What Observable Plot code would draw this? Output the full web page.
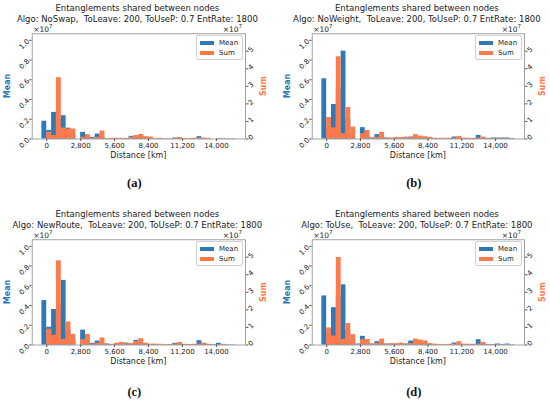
<!DOCTYPE html>
<html>
<head>
<meta charset="utf-8">
<script src="https://cdn.jsdelivr.net/npm/d3@7"></script>
<script src="https://cdn.jsdelivr.net/npm/@observablehq/plot@0.6"></script>
<style>
  html, body { margin: 0; padding: 0; background: #fff; }
  #root { position: relative; width: 550px; height: 401px; background: #fff; overflow: hidden;
          font-family: "DejaVu Sans", sans-serif; color: #222; }
  .abs { position: absolute; white-space: nowrap; line-height: 1; }
  .legend { position: absolute; background: rgba(255,255,255,0.85); border: 1px solid #d0d0d0; border-radius: 2px; box-sizing: border-box; }
  sup { font-size: 5.5px; vertical-align: 0; position: relative; top: -3.2px; }
</style>
</head>
<body>
<div id="root"></div>
<script>
// Histogram bins: left edges in km (each bin 400 km wide)
const binLeft = [-400,0,400,800,1200,1600,2000,2400,2800,3200,3600,4000,4400,4800,5200,5600,6000,6400,6800,7200,
                 7600,8000,8400,8800,9200,9600,10000,10400,10800,11200,11600,12000,12400,12800,13200,13600,14000,14400,14800,15200];
const binWidth = 400;
const xTicks = [0, 2800, 5600, 8400, 11200, 14000];
const meanTicks = [0, 0.2, 0.4, 0.6, 0.8, 1.0];   // ×1e7
const sumTicks = [0, 1, 2, 3, 4, 5];              // ×1e7

const titles = ["NoSwap", "NoWeight", "NewRoute", "ToUse"];
const captions = ["(a)", "(b)", "(c)", "(d)"];

// Values in units of 1e7
const meanA = [0.18,0.087,0.27,0.2,0.236,0.11,0.05,0,0.067,0.01,0.017,0.05,0.02,0.003,0.004,0.004,0.003,0.005,0.027,0.01,
               0.015,0.01,0.005,0.003,0.004,0.002,0.002,0.01,0.005,0.003,0.003,0.004,0.024,0.005,0.003,0,0.005,0.004,0.003,0.003];
const sumA  = [0,0.38,0.2,3.49,0.62,0.57,0.57,0,0.1,0.25,0.05,0.1,0.45,0.03,0.04,0.04,0.04,0.03,0.1,0.2,
               0.26,0.13,0.11,0.03,0.04,0.02,0.02,0.03,0.09,0.03,0.03,0.04,0.05,0.05,0.04,0,0.01,0.01,0,0];
const meanB = [0.61,0.1,0.35,0.5,0.89,0.2,0.05,0,0.115,0.03,0.01,0.044,0.02,0.01,0.005,0.005,0.005,0.01,0.02,0.02,
               0.01,0.01,0.005,0.005,0.003,0.003,0.005,0.02,0.01,0.005,0.005,0.005,0.037,0.01,0.005,0.01,0.01,0.01,0.01,0.005];
const sumB  = [0,1.22,0.63,4.68,0.3,1.79,0.68,0,0.3,0.49,0.05,0.1,0.38,0.04,0.06,0.08,0.08,0.11,0.08,0.25,
               0.17,0.13,0.09,0.05,0.04,0.04,0.04,0.05,0.15,0.05,0.04,0.04,0.05,0.11,0.04,0.03,0.03,0.03,0.02,0.02];
const meanC = [0.45,0.18,0.36,0.4,0.655,0.15,0.05,0,0.15,0.03,0.017,0.04,0.02,0.01,0.005,0.005,0.01,0.02,0.01,0.047,
               0.02,0.01,0.005,0.005,0.003,0.003,0.005,0.017,0.01,0.005,0.005,0.005,0.044,0.01,0.005,0.005,0.017,0.005,0.003,0.003];
const sumC  = [0,0.9,0.55,4.79,0.32,1.31,0.61,0,0.3,0.61,0.05,0.1,0.4,0.04,0.04,0.1,0.15,0.08,0.08,0.2,
               0.36,0.1,0.05,0.05,0.04,0.03,0.03,0.05,0.15,0.04,0.03,0.04,0.05,0.11,0.04,0.02,0.02,0.04,0.01,0];
const meanD = [0.497,0.12,0.378,0.5,0.61,0.15,0.05,0.01,0.088,0.03,0.01,0.034,0.02,0.01,0.005,0.005,0.005,0.01,0.04,0.02,
               0.02,0.01,0.005,0.005,0.003,0.003,0.005,0.02,0.01,0.005,0.005,0.005,0.054,0.01,0.005,0.005,0.01,0.005,0.01,0.003];
const sumD  = [0,0.97,0.51,4.98,0.32,1.22,0.59,0,0.3,0.32,0.05,0.1,0.34,0.04,0.08,0.08,0.11,0.05,0.08,0.34,
               0.28,0.23,0.08,0.05,0.03,0.03,0.04,0.05,0.19,0.05,0.04,0.04,0.05,0.15,0.03,0.02,0.02,0.02,0.01,0.01];

const means = [meanA, meanB, meanC, meanD];
const sums = [sumA, sumB, sumC, sumD];

const BLUE = "#2f79b7";
const ORANGE = "#ff7a4a";
const K = 0.178;          // right-axis (Sum) units -> left-axis (Mean) units
const Y_MAX = 1.066;

const root = document.getElementById("root");

function addText(html, x, y, style = {}, anchor = "center") {
  const d = document.createElement("div");
  d.className = "abs";
  d.innerHTML = html;
  d.style.left = x + "px";
  d.style.top = y + "px";
  const tx = anchor === "center" ? "-50%" : anchor === "end" ? "-100%" : "0";
  d.style.transform = `translate(${tx},-50%)` + (style.rotate ? ` rotate(${style.rotate}deg)` : "");
  for (const [k, v] of Object.entries(style)) if (k !== "rotate") d.style[k] = v;
  root.appendChild(d);
  return d;
}

const W = 275, H = 200;
const panels = [
  {ox: 0,   oy: 0,   mL: 31.7, mR: 30, cap: 183},
  {ox: 275, oy: 0,   mL: 36.7, mR: 26, cap: 183},
  {ox: 0,   oy: 206, mL: 31.7, mR: 30, cap: 185.5},
  {ox: 275, oy: 206, mL: 36.7, mR: 26, cap: 185.5}
];
const mT = 33.3, mB = 61.5;

panels.forEach((p, i) => {
  const rows = binLeft.map((x0, j) => ({x1: x0, x2: x0 + binWidth, mean: means[i][j], sum: sums[i][j]}));
  const svg = Plot.plot({
    width: W, height: H,
    marginLeft: p.mL, marginRight: p.mR, marginTop: mT, marginBottom: mB,
    x: {domain: [-1200, 16400]},
    y: {domain: [0, Y_MAX]},
    style: {fontFamily: "DejaVu Sans", fontSize: "7px", color: "#222", background: "transparent", overflow: "visible"},
    marks: [
      Plot.rect(rows, {x1: "x1", x2: "x2", y1: 0, y2: "mean", fill: BLUE}),
      Plot.rect(rows, {x1: "x1", x2: "x2", y1: 0, y2: d => d.sum * K, fill: ORANGE}),
      Plot.frame({stroke: "#8a8a8a", strokeWidth: 0.8}),
      Plot.axisX(xTicks, {tickFormat: d3.format(","), tickSize: 2.5, tickPadding: 2, label: null, stroke: "#555"}),
      Plot.axisY(meanTicks, {tickFormat: d => d.toFixed(1), tickRotate: -45, tickSize: 2.5, tickPadding: 1.5, label: null, stroke: "#555"}),
      Plot.axisY(sumTicks.map(t => t * K), {anchor: "right", tickFormat: d => String(Math.round(d / K)), tickRotate: -45, tickSize: 2.5, tickPadding: 1.5, label: null, stroke: "#555"})
    ]
  });
  svg.style.position = "absolute";
  svg.style.left = p.ox + "px";
  svg.style.top = p.oy + "px";
  root.appendChild(svg);

  const fL = p.ox + p.mL, fR = p.ox + W - p.mR, fT = p.oy + mT, fB = p.oy + H - mB;
  const cx = (fL + fR) / 2;

  addText("Entanglements shared between nodes", cx - 1, p.oy + 7.5, {fontSize: "8.5px"});
  addText(`Algo: ${titles[i]},&nbsp; ToLeave: 200, ToUseP: 0.7 EntRate: 1800`, cx - 1, p.oy + 19, {fontSize: "8.5px"});
  addText("×10<sup>7</sup>", fL + 1.5, p.oy + 29.5, {fontSize: "7.5px"}, "start");
  addText("×10<sup>7</sup>", fR - 3, p.oy + 29.5, {fontSize: "7.5px"}, "end");
  addText("Distance [km]", cx, p.oy + 155.5, {fontSize: "8px"});
  addText("Mean", fL - 23.5, (fT + fB) / 2, {fontSize: "8px", fontWeight: "bold", color: BLUE, rotate: -90});
  addText("Sum", fR + 18.5, (fT + fB) / 2, {fontSize: "8px", fontWeight: "bold", color: ORANGE, rotate: -90});
  addText(captions[i], cx - 4, p.oy + p.cap, {fontSize: "12.5px", fontWeight: "bold", fontFamily: "'Liberation Serif', serif", color: "#111"});

  // legend
  const lg = document.createElement("div");
  lg.className = "legend";
  const lw = 47, lh = 25;
  lg.style.left = (fR - 2.5 - lw) + "px";
  lg.style.top = (fT + 2) + "px";
  lg.style.width = lw + "px";
  lg.style.height = lh + "px";
  root.appendChild(lg);
  const items = [["Mean", BLUE], ["Sum", ORANGE]];
  items.forEach(([name, col], j) => {
    const y = fT + 9.3 + j * 10.7;
    const sw = document.createElement("div");
    sw.style.position = "absolute";
    sw.style.left = (fR - 45) + "px";
    sw.style.top = (y - 2) + "px";
    sw.style.width = "14px";
    sw.style.height = "4px";
    sw.style.background = col;
    root.appendChild(sw);
    addText(name, fR - 26, y, {fontSize: "7px"}, "start");
  });
});
</script>
</body>
</html>
